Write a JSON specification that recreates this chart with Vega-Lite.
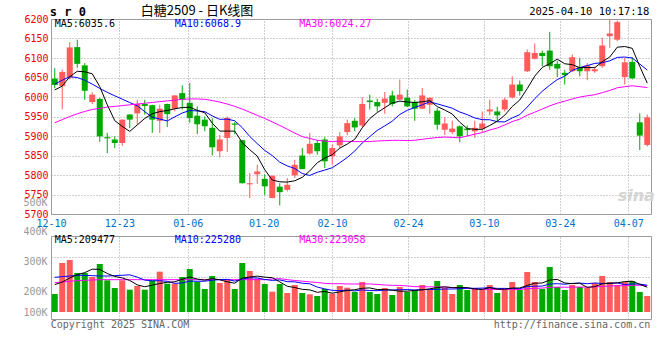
{
  "$schema": "https://vega.github.io/schema/vega-lite/v6.json",
  "background": "white",
  "padding": {"left": 22, "top": 4, "right": 8, "bottom": 30},
  "bounds": "flush",
  "spacing": 22,
  "config": {
    "view": {"stroke": "#999999", "strokeWidth": 1},
    "axis": {"ticks": false, "domain": false, "labelFont": "DejaVu Sans Mono", "labelFontSize": 10, "gridColor": "#a0a0a0", "gridDash": [1, 2], "gridWidth": 1, "gridOpacity": 1, "labelOverlap": false},
    "text": {"font": "DejaVu Sans Mono", "fontSize": 10}
  },
  "data": {"values": [
    {"d":"12-10","o":6047,"h":6074,"l":6022,"c":6031,"v":152010,"m5":6018,"m10":6033,"m30":5934,"vm5":230830,"vm10":292760,"vm30":247720},
    {"d":"12-11","o":6028,"h":6070,"l":5968,"c":6064,"v":413805,"m5":6028,"m10":6043,"m30":5942,"vm5":253350,"vm10":298390,"vm30":253350},
    {"d":"12-12","o":6050,"h":6141,"l":6045,"c":6127,"v":439140,"m5":6052,"m10":6052,"m30":5950,"vm5":287130,"vm10":304020,"vm30":258980},
    {"d":"12-13","o":6128,"h":6147,"l":6075,"c":6085,"v":329355,"m5":6066,"m10":6050,"m30":5957,"vm5":315280,"vm10":309650,"vm30":264610},
    {"d":"12-16","o":6081,"h":6087,"l":5993,"c":6016,"v":329355,"m5":6064.6,"m10":6043,"m30":5963,"vm5":332733,"vm10":309650,"vm30":267425},
    {"d":"12-17","o":5987,"h":6012,"l":5982,"c":6006,"v":295575,"m5":6059.6,"m10":6033,"m30":5968,"vm5":361446,"vm10":306835,"vm30":270240},
    {"d":"12-18","o":5995,"h":5998,"l":5885,"c":5899,"v":405360,"m5":6026.6,"m10":6022,"m30":5971,"vm5":359757,"vm10":304020,"vm30":273055},
    {"d":"12-19","o":5897,"h":5908,"l":5856,"c":5894,"v":267425,"m5":5980,"m10":6012,"m30":5974,"vm5":325414,"vm10":304020,"vm30":273055},
    {"d":"12-20","o":5891,"h":5899,"l":5869,"c":5882,"v":202680,"m5":5939.4,"m10":6003,"m30":5976,"vm5":300079,"vm10":306835,"vm30":273055},
    {"d":"12-23","o":5882,"h":5943,"l":5875,"c":5942,"v":267425,"m5":5924.6,"m10":5994.6,"m30":5978,"vm5":287693,"vm10":310213,"vm30":273055},
    {"d":"12-24","o":5955,"h":5956,"l":5920,"c":5942,"v":188605,"m5":5911.8,"m10":5985.7,"m30":5980,"vm5":266299,"vm10":313873,"vm30":273055},
    {"d":"12-25","o":5958,"h":5993,"l":5929,"c":5982,"v":219570,"m5":5928.4,"m10":5977.5,"m30":5982,"vm5":229141,"vm10":294449,"vm30":273055},
    {"d":"12-26","o":5982,"h":5993,"l":5955,"c":5977,"v":188605,"m5":5945,"m10":5962.5,"m30":5984,"vm5":213377,"vm10":269396,"vm30":273055},
    {"d":"12-27","o":5979,"h":5980,"l":5908,"c":5942,"v":267425,"m5":5957,"m10":5948.2,"m30":5986,"vm5":226326,"vm10":263203,"vm30":273055},
    {"d":"12-30","o":5939,"h":5980,"l":5908,"c":5970,"v":340615,"m5":5962.6,"m10":5943.6,"m30":5988,"vm5":240964,"vm10":264329,"vm30":273055},
    {"d":"12-31","o":5982,"h":5983,"l":5923,"c":5956,"v":239275,"m5":5965.4,"m10":5938.6,"m30":5990,"vm5":251098,"vm10":258699,"vm30":273055},
    {"d":"01-02","o":5970,"h":6005,"l":5963,"c":6004,"v":239275,"m5":5969.8,"m10":5949.1,"m30":5992,"vm5":255039,"vm10":242090,"vm30":273055},
    {"d":"01-03","o":6010,"h":6030,"l":5968,"c":5993,"v":295575,"m5":5973,"m10":5959,"m30":5994,"vm5":276433,"vm10":244905,"vm30":273055},
    {"d":"01-06","o":5985,"h":6036,"l":5934,"c":5946,"v":363135,"m5":5973.8,"m10":5965.4,"m30":5995,"vm5":295575,"vm10":260951,"vm30":273055},
    {"d":"01-07","o":5952,"h":5976,"l":5905,"c":5930,"v":253350,"m5":5965.8,"m10":5964.2,"m30":5995,"vm5":278122,"vm10":259543,"vm30":273055},
    {"d":"01-08","o":5942,"h":5950,"l":5912,"c":5925,"v":194235,"m5":5959.6,"m10":5962.5,"m30":5994,"vm5":269114,"vm10":260106,"vm30":273055},
    {"d":"01-09","o":5921,"h":5946,"l":5850,"c":5871,"v":304020,"m5":5933,"m10":5951.4,"m30":5991,"vm5":282063,"vm10":268551,"vm30":273055},
    {"d":"01-10","o":5861,"h":5903,"l":5845,"c":5891,"v":244905,"m5":5912.6,"m10":5942.8,"m30":5987,"vm5":271929,"vm10":274181,"vm30":273055},
    {"d":"01-13","o":5895,"h":5950,"l":5859,"c":5946,"v":278685,"m5":5912.6,"m10":5943.2,"m30":5982,"vm5":255039,"vm10":275307,"vm30":273055},
    {"d":"01-14","o":5932,"h":5936,"l":5905,"c":5929,"v":194235,"m5":5912.4,"m10":5939.1,"m30":5976,"vm5":243216,"vm10":260669,"vm30":273055},
    {"d":"01-15","o":5889,"h":5890,"l":5778,"c":5779,"v":413805,"m5":5883.2,"m10":5921.4,"m30":5969,"vm5":287130,"vm10":278122,"vm30":273055},
    {"d":"01-16","o":5776,"h":5805,"l":5741,"c":5779,"v":346245,"m5":5864.8,"m10":5898.9,"m30":5961,"vm5":295575,"vm10":288819,"vm30":273055},
    {"d":"01-17","o":5802,"h":5826,"l":5777,"c":5809,"v":281500,"m5":5848.4,"m10":5880.5,"m30":5953,"vm5":302894,"vm10":287412,"vm30":273055},
    {"d":"01-20","o":5790,"h":5802,"l":5749,"c":5771,"v":236460,"m5":5813.4,"m10":5863,"m30":5945,"vm5":294449,"vm10":274744,"vm30":273055},
    {"d":"01-21","o":5741,"h":5799,"l":5740,"c":5798,"v":171715,"m5":5787.2,"m10":5849.8,"m30":5936.2,"vm5":289945,"vm10":266581,"vm30":278770},
    {"d":"01-22","o":5770,"h":5779,"l":5722,"c":5756,"v":236460,"m5":5782.6,"m10":5832.9,"m30":5927,"vm5":254476,"vm10":270803,"vm30":281585},
    {"d":"01-23","o":5762,"h":5792,"l":5758,"c":5775,"v":160455,"m5":5781.8,"m10":5823.3,"m30":5917.4,"vm5":217318,"vm10":256447,"vm30":273140},
    {"d":"01-24","o":5799,"h":5839,"l":5792,"c":5826,"v":228015,"m5":5785.2,"m10":5816.8,"m30":5907.4,"vm5":206621,"vm10":254758,"vm30":266102},
    {"d":"01-27","o":5850,"h":5869,"l":5815,"c":5815,"v":160455,"m5":5794,"m10":5803.7,"m30":5898.4,"vm5":191420,"vm10":242935,"vm30":260472},
    {"d":"02-05","o":5855,"h":5908,"l":5852,"c":5880,"v":149195,"m5":5810.4,"m10":5798.8,"m30":5893.8,"vm5":186916,"vm10":238431,"vm30":254476},
    {"d":"02-06","o":5882,"h":5890,"l":5852,"c":5861,"v":135120,"m5":5831.4,"m10":5807,"m30":5889,"vm5":166648,"vm10":210562,"vm30":249128},
    {"d":"02-07","o":5891,"h":5897,"l":5818,"c":5835,"v":194235,"m5":5843.4,"m10":5812.6,"m30":5886.9,"vm5":173404,"vm10":195361,"vm30":242090},
    {"d":"02-10","o":5848,"h":5878,"l":5826,"c":5869,"v":154825,"m5":5852,"m10":5818.6,"m30":5886,"vm5":158766,"vm10":182694,"vm30":238346},
    {"d":"02-11","o":5876,"h":5910,"l":5869,"c":5899,"v":219570,"m5":5868.8,"m10":5831.4,"m30":5886.6,"vm5":170589,"vm10":181005,"vm30":238909},
    {"d":"02-12","o":5910,"h":5942,"l":5902,"c":5933,"v":205495,"m5":5879.4,"m10":5844.9,"m30":5886.3,"vm5":181849,"vm10":184383,"vm30":236826},
    {"d":"02-13","o":5939,"h":5946,"l":5912,"c":5922,"v":168900,"m5":5891.6,"m10":5861.5,"m30":5885.6,"vm5":188605,"vm10":177627,"vm30":236179},
    {"d":"02-14","o":5927,"h":5999,"l":5922,"c":5982,"v":253350,"m5":5921,"m10":5882.2,"m30":5885.6,"vm5":200428,"vm10":186916,"vm30":237305},
    {"d":"02-17","o":5991,"h":6006,"l":5968,"c":5987,"v":168900,"m5":5944.6,"m10":5898.3,"m30":5886,"vm5":203243,"vm10":181005,"vm30":236657},
    {"d":"02-18","o":5987,"h":5996,"l":5962,"c":5976,"v":152010,"m5":5960,"m10":5914.4,"m30":5887.1,"vm5":189731,"vm10":180160,"vm30":232801},
    {"d":"02-19","o":5985,"h":6013,"l":5957,"c":5996,"v":202680,"m5":5972.6,"m10":5926,"m30":5888,"vm5":189168,"vm10":185509,"vm30":228212},
    {"d":"02-20","o":6004,"h":6016,"l":5976,"c":5982,"v":143565,"m5":5984.6,"m10":5938.1,"m30":5888.8,"vm5":184101,"vm10":186353,"vm30":225003},
    {"d":"02-21","o":5993,"h":6045,"l":5991,"c":6006,"v":211125,"m5":5989.4,"m10":5955.2,"m30":5888.9,"vm5":175656,"vm10":188042,"vm30":224074},
    {"d":"02-24","o":5998,"h":6019,"l":5974,"c":5976,"v":168900,"m5":5987.2,"m10":5965.9,"m30":5888.3,"vm5":175656,"vm10":189450,"vm30":219852},
    {"d":"02-25","o":5987,"h":5993,"l":5939,"c":5970,"v":185790,"m5":5986,"m10":5973,"m30":5889.1,"vm5":182412,"vm10":186072,"vm30":213940},
    {"d":"02-26","o":5970,"h":6023,"l":5969,"c":6004,"v":228015,"m5":5987.6,"m10":5980.1,"m30":5891.6,"vm5":187479,"vm10":188324,"vm30":213096},
    {"d":"02-27","o":5980,"h":5999,"l":5957,"c":5998,"v":185790,"m5":5990.8,"m10":5987.7,"m30":5894,"vm5":195924,"vm10":190013,"vm30":212814},
    {"d":"02-28","o":5965,"h":5972,"l":5916,"c":5929,"v":261795,"m5":5975.4,"m10":5982.4,"m30":5896,"vm5":206058,"vm10":190857,"vm30":211407},
    {"d":"03-03","o":5916,"h":5948,"l":5902,"c":5932,"v":202680,"m5":5966.6,"m10":5976.9,"m30":5897.3,"vm5":212814,"vm10":194235,"vm30":209999},
    {"d":"03-04","o":5910,"h":5939,"l":5905,"c":5919,"v":152010,"m5":5956.4,"m10":5971.2,"m30":5896.4,"vm5":206058,"vm10":194235,"vm30":205777},
    {"d":"03-05","o":5925,"h":5927,"l":5884,"c":5899,"v":228015,"m5":5935.4,"m10":5961.5,"m30":5895.4,"vm5":206058,"vm10":196769,"vm30":206903},
    {"d":"03-06","o":5919,"h":5927,"l":5899,"c":5915,"v":185790,"m5":5918.8,"m10":5954.8,"m30":5900,"vm5":206058,"vm10":200991,"vm30":199302},
    {"d":"03-07","o":5912,"h":5939,"l":5895,"c":5921,"v":202680,"m5":5917.2,"m10":5946.3,"m30":5904.7,"vm5":194235,"vm10":200147,"vm30":194517},
    {"d":"03-10","o":5919,"h":5963,"l":5910,"c":5932,"v":185790,"m5":5917.2,"m10":5941.9,"m30":5908.8,"vm5":190857,"vm10":201836,"vm30":191336},
    {"d":"03-11","o":5963,"h":5993,"l":5953,"c":5968,"v":228015,"m5":5927,"m10":5941.7,"m30":5915.4,"vm5":206058,"vm10":206058,"vm30":191054},
    {"d":"03-12","o":5963,"h":5975,"l":5938,"c":5953,"v":160455,"m5":5937.8,"m10":5936.6,"m30":5920.5,"vm5":192546,"vm10":199302,"vm30":190660},
    {"d":"03-13","o":5968,"h":5998,"l":5963,"c":5993,"v":185790,"m5":5953.4,"m10":5936.1,"m30":5928.4,"vm5":192546,"vm10":199302,"vm30":188971},
    {"d":"03-14","o":5999,"h":6053,"l":5996,"c":6032,"v":253350,"m5":5975.6,"m10":5946.4,"m30":5937,"vm5":202680,"vm10":198458,"vm30":192067},
    {"d":"03-17","o":6032,"h":6042,"l":6004,"c":6015,"v":185790,"m5":5992.2,"m10":5954.7,"m30":5943.3,"vm5":202680,"vm10":196769,"vm30":190660},
    {"d":"03-18","o":6066,"h":6122,"l":6064,"c":6115,"v":337800,"m5":6021.6,"m10":5974.3,"m30":5953.3,"vm5":224637,"vm10":215348,"vm30":196571},
    {"d":"03-19","o":6098,"h":6137,"l":6096,"c":6113,"v":253350,"m5":6053.6,"m10":5995.7,"m30":5961.1,"vm5":243216,"vm10":217881,"vm30":200062},
    {"d":"03-20","o":6113,"h":6119,"l":6079,"c":6105,"v":194235,"m5":6076,"m10":6014.7,"m30":5969.2,"vm5":244905,"vm10":218726,"vm30":202033},
    {"d":"03-21","o":6119,"h":6167,"l":6070,"c":6079,"v":380025,"m5":6085.4,"m10":6030.5,"m30":5977.3,"vm5":270240,"vm10":236460,"vm30":208226},
    {"d":"03-24","o":6085,"h":6093,"l":6051,"c":6073,"v":211125,"m5":6097,"m10":6044.6,"m30":5984.1,"vm5":275307,"vm10":238994,"vm30":210083},
    {"d":"03-25","o":6062,"h":6070,"l":6032,"c":6056,"v":185790,"m5":6085.2,"m10":6053.4,"m30":5989.4,"vm5":244905,"vm10":234771,"vm30":208957},
    {"d":"03-26","o":6066,"h":6109,"l":6064,"c":6102,"v":228015,"m5":6083,"m10":6068.3,"m30":5995,"vm5":239838,"vm10":241527,"vm30":209718},
    {"d":"03-27","o":6076,"h":6100,"l":6053,"c":6066,"v":211125,"m5":6075.2,"m10":6075.6,"m30":5999.8,"vm5":243216,"vm10":244061,"vm30":211125},
    {"d":"03-28","o":6066,"h":6087,"l":6043,"c":6081,"v":202680,"m5":6075.6,"m10":6080.5,"m30":6003.1,"vm5":207747,"vm10":238994,"vm30":209436},
    {"d":"03-31","o":6066,"h":6078,"l":6062,"c":6071,"v":244905,"m5":6075.2,"m10":6086.1,"m30":6005.9,"vm5":214503,"vm10":244905,"vm30":211970},
    {"d":"04-01","o":6079,"h":6152,"l":6075,"c":6132,"v":304020,"m5":6090.4,"m10":6087.8,"m30":6011.1,"vm5":238149,"vm10":241527,"vm30":217037},
    {"d":"04-02","o":6156,"h":6200,"l":6126,"c":6163,"v":253350,"m5":6102.6,"m10":6092.8,"m30":6016.7,"vm5":243216,"vm10":241527,"vm30":218726},
    {"d":"04-03","o":6147,"h":6196,"l":6143,"c":6192,"v":228015,"m5":6127.8,"m10":6101.5,"m30":6023.7,"vm5":246594,"vm10":244905,"vm30":221541},
    {"d":"04-07","o":6051,"h":6100,"l":6032,"c":6089,"v":253350,"m5":6129.4,"m10":6102.5,"m30":6026.4,"vm5":256728,"vm10":232238,"vm30":222948},
    {"d":"04-08","o":6090,"h":6102,"l":6045,"c":6048,"v":261795,"m5":6124.8,"m10":6100,"m30":6028.8,"vm5":260106,"vm10":237305,"vm30":226045},
    {"d":"04-09","o":5935,"h":5958,"l":5864,"c":5901,"v":168900,"m5":6078.6,"m10":6084.5,"m30":6026.5,"vm5":233082,"vm10":235616,"vm30":225482},
    {"d":"04-10","o":5877,"h":5955,"l":5873,"c":5948,"v":135120,"m5":6035.6,"m10":6069.1,"m30":6024.3,"vm5":209436,"vm10":226326,"vm30":222385}
  ]},
  "vconcat": [
    {
      "width": 600,
      "height": 195,
      "resolve": {"scale": {"x": "independent"}},
      "layer": [
        {
          "mark": {"type": "point", "opacity": 0, "size": 0},
          "encoding": {
            "x": {"field": "d", "type": "ordinal", "sort": null,
                  "scale": {"type": "point", "padding": 0},
                  "axis": {"values": ["12-10","12-23","01-06","01-20","02-10","02-24","03-10","03-24","04-07"], "grid": true, "title": null, "labelAngle": 0, "labelColor": "#0070c8", "labelPadding": 4, "labelOverlap": false}}
          }
        },
        {
          "encoding": {
            "x": {"field": "d", "type": "ordinal", "axis": null,
                  "scale": {"type": "band", "paddingInner": 0.2, "paddingOuter": 0.1,
                            "domain": ["12-10","12-11","12-12","12-13","12-16","12-17","12-18","12-19","12-20","12-23","12-24","12-25","12-26","12-27","12-30","12-31","01-02","01-03","01-06","01-07","01-08","01-09","01-10","01-13","01-14","01-15","01-16","01-17","01-20","01-21","01-22","01-23","01-24","01-27","02-05","02-06","02-07","02-10","02-11","02-12","02-13","02-14","02-17","02-18","02-19","02-20","02-21","02-24","02-25","02-26","02-27","02-28","03-03","03-04","03-05","03-06","03-07","03-10","03-11","03-12","03-13","03-14","03-17","03-18","03-19","03-20","03-21","03-24","03-25","03-26","03-27","03-28","03-31","04-01","04-02","04-03","04-07","04-08","04-09","04-10"]}}
          },
          "layer": [
            {
              "mark": {"type": "rule", "strokeWidth": 1},
              "encoding": {
                "y": {"field": "l", "type": "quantitative",
                      "scale": {"domain": [5700, 6200], "zero": false, "nice": false},
                      "axis": {"values": [5700,5750,5800,5850,5900,5950,6000,6050,6100,6150,6200], "tickCount": 30, "format": "d", "grid": true, "title": null, "labelColor": "#ee0000", "labelPadding": 3, "labelOverlap": false}},
                "y2": {"field": "h"},
                "color": {"condition": {"test": "datum.c >= datum.o", "value": "#ff5b5b"}, "value": "#00a800"}
              }
            },
            {
              "mark": {"type": "bar"},
              "encoding": {
                "y": {"field": "o", "type": "quantitative"},
                "y2": {"field": "c"},
                "color": {"condition": {"test": "datum.c >= datum.o", "value": "#ff5b5b"}, "value": "#00a800"}
              }
            },
            {"mark": {"type": "line", "color": "#0000ff", "strokeWidth": 1}, "encoding": {"y": {"field": "m10", "type": "quantitative"}}},
            {"mark": {"type": "line", "color": "#ff00ff", "strokeWidth": 1}, "encoding": {"y": {"field": "m30", "type": "quantitative"}}},
            {"mark": {"type": "line", "color": "#000000", "strokeWidth": 1}, "encoding": {"y": {"field": "m5", "type": "quantitative"}}},
            {"transform": [{"filter": "datum.d == '12-10'"}], "mark": {"type": "text", "align": "left", "baseline": "middle", "color": "#000000"}, "encoding": {"y": {"datum": 6187}, "text": {"value": "MA5:6035.6"}}},
            {"transform": [{"filter": "datum.d == '01-02'"}], "mark": {"type": "text", "align": "left", "baseline": "middle", "color": "#0000ff"}, "encoding": {"y": {"datum": 6187}, "text": {"value": "MA10:6068.9"}}},
            {"transform": [{"filter": "datum.d == '01-27'"}], "mark": {"type": "text", "align": "left", "baseline": "middle", "dx": -3, "color": "#ff00ff"}, "encoding": {"y": {"datum": 6187}, "text": {"value": "MA30:6024.27"}}},
            {"transform": [{"filter": "datum.d == '12-10'"}], "mark": {"type": "text", "align": "left", "baseline": "middle", "dx": -5, "fontSize": 12, "fontWeight": "bold", "color": "#000000"}, "encoding": {"y": {"datum": 6217}, "text": {"value": "s r 0"}}},
            {"transform": [{"filter": "datum.d == '12-26'"}], "mark": {"type": "text", "align": "left", "baseline": "middle", "dx": -4, "font": "Noto Sans CJK SC", "fontSize": 13, "color": "#000000"}, "encoding": {"y": {"datum": 6220}, "text": {"value": "白糖2509 - 日K线图"}}},
            {"transform": [{"filter": "datum.d == '04-10'"}], "mark": {"type": "text", "align": "right", "baseline": "middle", "dx": 2, "fontSize": 10.5, "color": "#000000"}, "encoding": {"y": {"datum": 6218}, "text": {"value": "2025-04-10 10:17:18"}}},
            {"transform": [{"filter": "datum.d == '04-08'"}], "mark": {"type": "text", "align": "center", "baseline": "middle", "dx": 4, "font": "DejaVu Sans", "fontSize": 16, "fontWeight": "bold", "fontStyle": "italic", "color": "#d4d4d4"}, "encoding": {"y": {"datum": 5745}, "text": {"value": "sina"}}}
          ]
        }
      ]
    },
    {
      "width": 600,
      "height": 83,
      "resolve": {"scale": {"x": "independent", "y": "independent"}},
      "layer": [
        {
          "mark": {"type": "point", "opacity": 0, "size": 0},
          "encoding": {
            "x": {"field": "d", "type": "ordinal", "sort": null,
                  "scale": {"type": "point", "padding": 0},
                  "axis": {"values": ["12-10","12-23","01-06","01-20","02-10","02-24","03-10","03-24","04-07"], "grid": true, "labels": false, "title": null}}
          }
        },
        {
          "mark": {"type": "point", "opacity": 0, "size": 0},
          "encoding": {
            "y": {"field": "v", "type": "quantitative",
                  "scale": {"domain": [100000, 200000, 500000], "range": [76, 55.5, -34], "zero": false, "nice": false},
                  "axis": {"orient": "left", "values": [100000, 200000, 300000, 400000, 500000], "tickCount": 30, "labelExpr": "(datum.value / 1000) + 'K'", "grid": false, "title": null, "labelColor": "#999999", "labelPadding": 4, "labelOverlap": false}}
          }
        },
        {
          "encoding": {
            "x": {"field": "d", "type": "ordinal", "axis": null,
                  "scale": {"type": "band", "paddingInner": 0.2, "paddingOuter": 0.1,
                            "domain": ["12-10","12-11","12-12","12-13","12-16","12-17","12-18","12-19","12-20","12-23","12-24","12-25","12-26","12-27","12-30","12-31","01-02","01-03","01-06","01-07","01-08","01-09","01-10","01-13","01-14","01-15","01-16","01-17","01-20","01-21","01-22","01-23","01-24","01-27","02-05","02-06","02-07","02-10","02-11","02-12","02-13","02-14","02-17","02-18","02-19","02-20","02-21","02-24","02-25","02-26","02-27","02-28","03-03","03-04","03-05","03-06","03-07","03-10","03-11","03-12","03-13","03-14","03-17","03-18","03-19","03-20","03-21","03-24","03-25","03-26","03-27","03-28","03-31","04-01","04-02","04-03","04-07","04-08","04-09","04-10"]}}
          },
          "layer": [
            {
              "mark": {"type": "bar"},
              "encoding": {
                "y": {"field": "v", "type": "quantitative",
                      "scale": {"domain": [-59115, 641820], "zero": false, "nice": false},
                      "axis": {"orient": "left", "values": [126675, 295575, 464475], "tickCount": 30, "grid": true, "labels": false, "title": null}},
                "y2": {"datum": 0},
                "color": {"condition": {"test": "datum.c >= datum.o", "value": "#ff5b5b"}, "value": "#00a800"}
              }
            },
            {"mark": {"type": "line", "color": "#ff00ff", "strokeWidth": 1}, "encoding": {"y": {"field": "vm30", "type": "quantitative"}}},
            {"mark": {"type": "line", "color": "#0000ff", "strokeWidth": 1}, "encoding": {"y": {"field": "vm10", "type": "quantitative"}}},
            {"mark": {"type": "line", "color": "#000000", "strokeWidth": 1}, "encoding": {"y": {"field": "vm5", "type": "quantitative"}}},
            {"transform": [{"filter": "datum.d == '12-10'"}], "mark": {"type": "text", "align": "left", "baseline": "middle", "color": "#000000"}, "encoding": {"y": {"datum": 612000}, "text": {"value": "MA5:209477"}}},
            {"transform": [{"filter": "datum.d == '01-02'"}], "mark": {"type": "text", "align": "left", "baseline": "middle", "color": "#0000ff"}, "encoding": {"y": {"datum": 612000}, "text": {"value": "MA10:225280"}}},
            {"transform": [{"filter": "datum.d == '01-27'"}], "mark": {"type": "text", "align": "left", "baseline": "middle", "dx": -3, "color": "#ff00ff"}, "encoding": {"y": {"datum": 612000}, "text": {"value": "MA30:223058"}}},
            {"transform": [{"filter": "datum.d == '12-10'"}], "mark": {"type": "text", "align": "left", "baseline": "middle", "dx": -4, "color": "#666666"}, "encoding": {"y": {"datum": -106000}, "text": {"value": "Copyright 2025 SINA.COM"}}},
            {"transform": [{"filter": "datum.d == '04-10'"}], "mark": {"type": "text", "align": "right", "baseline": "middle", "dx": 3, "color": "#666666"}, "encoding": {"y": {"datum": -108000}, "text": {"value": "http://finance.sina.com.cn"}}}
          ]
        }
      ]
    }
  ]
}
